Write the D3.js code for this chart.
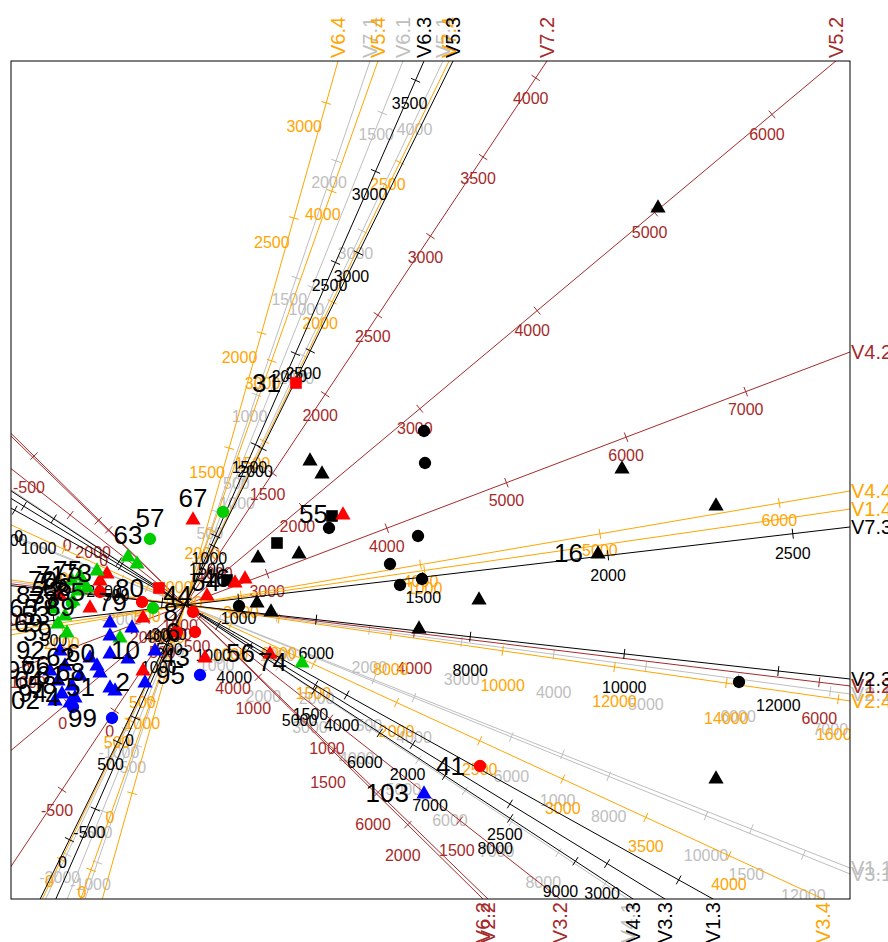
<!DOCTYPE html>
<html>
<head>
<meta charset="utf-8">
<script src="https://cdn.jsdelivr.net/npm/d3@7"></script>
<style>
  body { margin: 0; background: #ffffff; }
  text { font-family: "Liberation Sans", Arial, sans-serif; }
</style>
</head>
<body>
<svg id="chart" width="888" height="942"></svg>
<script>
// ---------------- biplot axes ----------------
// drawn in this order: .1 (gray), .2 (brown), .4 (orange), .3 (black)
const axisNames = ["V7.1","V6.1","V5.1","V4.1","V2.1","V1.1","V3.1",
                   "V7.2","V5.2","V4.2","V1.2","V6.2","V2.2","V3.2",
                   "V6.4","V5.4","V7.4","V4.4","V1.4","V2.4","V3.4",
                   "V6.3","V5.3","V7.3","V2.3","V4.3","V3.3","V1.3"];
const axisColourGroup = ["gray","gray","gray","gray","gray","gray","gray",
                         "brown","brown","brown","brown","brown","brown","brown",
                         "orange","orange","orange","orange","orange","orange","orange",
                         "black","black","black","black","black","black","black"];
// direction of each axis (degrees, anticlockwise from the first biplot dimension)
const axisAngles = [71.22, 68.16, 64.63, -33.57, -7.62, -21.58, -22.02,
                    56.36, 39.89, 20.83, -6.94, -44.61, -44.14, -38.09,
                    74.29, 70.47, 64.11, 9.73, 8.21, -8.21, -24.74,
                    66.28, 63.77, 6.69, -6.35, -33.27, -31.49, -29.11];
// variable value sitting at the biplot origin
const axisCentreValues = [101, 90, 0, 0, 0, 0, -705,
                          668, 1000, 2313, 2868, 510, 3241, 442,
                          818, 1561, 913, 2687, 0, 4319, 727,
                          620, 1200, 855, 4297, 3013, 829, 3026];
// biplot units moved per 1000 units of the variable
const axisUnitsPer1000 = [2.47, 3.76, 1.38, 0.56, 0.93, 4.06, 0.525,
                          1.90, 1.53, 1.28, 2.04, 2.10, 0.975, 3.30,
                          2.39, 1.80, 3.10, 1.82, 2.42, 0.565, 1.83,
                          1.99, 2.18, 3.72, 0.775, 0.78, 2.28, 1.90];
const axisTickValues = [
  [-1000,-500,0,500,1000,1500,2000],
  [-500,0,500,1000,1500],
  [-2000,-1000,0,1000,2000,3000,4000],
  [1000,2000,3000,4000,5000,6000,7000,8000,9000],
  [1000,2000,3000,4000,5000,6000,7000],
  [-500,0,500,1000,1500],
  [-2000,0,2000,4000,6000,8000,10000,12000],
  [-500,0,500,1000,1500,2000,2500,3000,3500,4000],
  [0,1000,2000,3000,4000,5000,6000],
  [1000,2000,3000,4000,5000,6000,7000],
  [2000,4000,6000],
  [-500,0,500,1000,1500,2000],
  [2000,4000,6000],
  [-500,0,500,1000,1500],
  [0,500,1000,1500,2000,2500,3000],
  [0,1000,2000,3000,4000],
  [0,500,1000,1500,2000,2500],
  [2000,3000,4000,5000,6000],
  [1000],
  [4000,6000,8000,10000,12000,14000,16000],
  [0,500,1000,1500,2000,2500,3000,3500,4000],
  [-500,0,500,1000,1500,2000,2500,3000,3500],
  [0,500,1000,1500,2000,2500,3000],
  [500,1000,1500,2000,2500],
  [4000,6000,8000,10000,12000],
  [1000,2000,3000,4000,5000,6000,7000,8000,9000],
  [0,500,1000,1500,2000,2500,3000],
  [2000,4000,6000]
];
// where each axis writes its tick labels, relative to the tick (px)
const tickLabelShift = [
  [-7,22],[-6,22],[-7,23],[-15,30],[0,38],[-5,46],[0,40],
  [-5,21],[-5,20],[0,18],[0,36],[-5,31],[-5,32],[-3,30],
  [-22,24],[-9,23],[-12,22],[0,17],[0,18],[0,35],[0,29],
  [-6,23],[-7,23],[0,20],[0,34],[-15,30],[-5,30],[-5,30]
];

// ---------------- samples: [dim1, dim2, shape, label, label side] ----------------
const groupBlack = [
  [4.73, 3.98, "tri", "", ""], [1.25, 1.45, "tri", "", ""], [1.37, 1.32, "tri", "", ""],
  [4.37, 1.37, "tri", "", ""], [5.31, 1.00, "tri", "", ""], [4.13, 0.52, "tri", "16", "l"],
  [2.94, 0.06, "tri", "", ""], [2.34, -0.23, "tri", "", ""], [0.73, 0.48, "tri", "", ""],
  [1.14, 0.52, "tri", "", ""], [0.72, 0.03, "tri", "", ""], [0.86, -0.06, "tri", "", ""],
  [5.31, -1.73, "tri", "", ""],
  [2.39, 1.74, "circle", "", ""], [2.40, 1.42, "circle", "", ""], [2.33, 0.69, "circle", "", ""],
  [2.05, 0.41, "circle", "", ""], [2.15, 0.20, "circle", "", ""], [2.37, 0.26, "circle", "", ""],
  [1.44, 0.77, "circle", "", ""], [0.54, -0.01, "circle", "", ""], [5.54, -0.77, "circle", "", ""],
  [1.47, 0.89, "square", "", ""], [0.92, 0.62, "square", "", ""], [0.42, 0.25, "square", "", ""]
];
const groupRed = [
  [1.11, 2.22, "square", "31", "l"], [0.08, 0.86, "tri", "67", "a"], [1.58, 0.91, "tri", "55", "l"],
  [0.50, 0.23, "tri", "54", "l"], [0.60, 0.27, "tri", "46", "l"], [0.22, 0.10, "tri", "44", "l"],
  [0.08, -0.07, "circle", "8", "l"], [-0.08, -0.27, "circle", "", ""], [0.10, -0.27, "circle", "6", "l"],
  [-0.26, 0.17, "square", "80", "l"], [-0.43, 0.03, "circle", "79", "l"], [-0.42, -0.12, "tri", "", ""],
  [0.20, -0.52, "tri", "43", "l"], [-0.42, -0.65, "tri", "", ""], [0.85, -0.48, "tri", "56", "l"],
  [2.95, -1.61, "circle", "41", "l"], [-0.78, 0.32, "tri", "73", "l"], [-0.85, 0.13, "circle", "85", "l"],
  [-0.95, -0.02, "tri", "89", "l"], [-0.85, 0.25, "tri", "", ""], [-1.25, 0.10, "tri", "83", "l"]
];
const groupGreen = [
  [-0.35, 0.66, "circle", "57", "a"], [0.38, 0.93, "circle", "", ""], [-0.32, -0.03, "circle", "", ""],
  [-0.57, 0.49, "tri", "63", "a"], [-0.48, 0.42, "tri", "", ""], [1.17, -0.57, "tri", "74", "l"],
  [-0.88, 0.35, "tri", "75", "l"], [-1.13, 0.25, "tri", "70", "l"], [-1.02, 0.23, "tri", "76", "l"],
  [-1.07, 0.15, "tri", "72", "l"], [-0.98, 0.18, "tri", "86", "l"], [-1.12, 0.05, "tri", "78", "l"],
  [-1.32, -0.03, "tri", "65", "l"], [-1.27, -0.18, "tri", "69", "l"], [-1.18, -0.27, "tri", "59", "l"],
  [-0.65, -0.32, "tri", "", ""], [-1.13, 0.02, "circle", "77", "l"], [-1.05, 0.30, "tri", "71", "l"],
  [-1.20, -0.10, "tri", "53", "l"]
];
const groupBlue = [
  [2.39, -1.88, "tri", "103", "l"], [0.15, -0.70, "circle", "95", "l"], [-0.73, -1.13, "circle", "99", "l"],
  [-0.75, -0.17, "tri", "", ""], [-0.53, -0.22, "tri", "", ""], [-0.75, -0.30, "tri", "", ""],
  [-0.30, -0.45, "tri", "10", "l"], [-0.57, -0.53, "tri", "", ""], [-0.75, -0.48, "tri", "60", "l"],
  [-0.95, -0.52, "tri", "62", "l"], [-1.20, -0.60, "tri", "66", "l"], [-0.88, -0.60, "tri", "", ""],
  [-0.85, -0.67, "tri", "68", "l"], [-1.05, -0.70, "tri", "61", "l"], [-1.27, -0.75, "tri", "64", "l"],
  [-1.13, -0.80, "tri", "58", "l"], [-0.75, -0.82, "tri", "51", "l"], [-0.70, -0.85, "tri", "", ""],
  [-0.40, -0.77, "tri", "2", "l"], [-1.30, -0.95, "tri", "102", "l"], [-1.15, -0.97, "tri", "", ""],
  [-1.23, -0.88, "tri", "94", "l"], [-1.10, -0.92, "tri", "4", "l"], [-1.12, -1.02, "circle", "", ""],
  [-1.25, -0.45, "tri", "92", "l"], [-1.35, -0.65, "tri", "97", "l"]
];

// ---------------- drawing ----------------
const colours = { gray: "#bebebe", brown: "#a52a2a", orange: "#ffa500", black: "#000000",
                  red: "#ff0000", green: "#00cd00", blue: "#0000ff" };

const svg = d3.select("#chart");
const frame = { left: 11, top: 61, right: 850, bottom: 899 };

const x = d3.scaleLinear().domain([-1.74, 6.65]).range([frame.left, frame.right]);
const y = d3.scaleLinear().domain([-2.94, 5.44]).range([frame.bottom, frame.top]);

svg.append("defs").append("clipPath").attr("id", "plotClip")
  .append("rect")
  .attr("x", frame.left).attr("y", frame.top)
  .attr("width", frame.right - frame.left).attr("height", frame.bottom - frame.top);

const plot = svg.append("g").attr("clip-path", "url(#plotClip)");
const ox = x(0), oy = y(0);

axisNames.forEach((name, i) => {
  const col = colours[axisColourGroup[i]];
  const a = axisAngles[i] * Math.PI / 180;
  const ca = Math.cos(a), sa = Math.sin(a);
  const pos = v => {
    const t = (v - axisCentreValues[i]) * axisUnitsPer1000[i] / 1000;
    return [x(t * ca), y(t * sa)];
  };
  const g = plot.append("g");
  // axis line through the origin, both ways
  g.append("line")
    .attr("x1", x(-20 * ca)).attr("y1", y(-20 * sa))
    .attr("x2", x(20 * ca)).attr("y2", y(20 * sa))
    .attr("stroke", col).attr("stroke-width", 1);
  // pixel direction and normal
  const pdx = ca, pdy = -sa;
  const nx = -pdy, ny = pdx;
  axisTickValues[i].forEach(v => {
    const [px, py] = pos(v);
    g.append("line")
      .attr("x1", px - 5 * nx).attr("y1", py - 5 * ny)
      .attr("x2", px + 5 * nx).attr("y2", py + 5 * ny)
      .attr("stroke", col).attr("stroke-width", 1);
    g.append("text")
      .attr("x", px + tickLabelShift[i][0]).attr("y", py + tickLabelShift[i][1])
      .attr("text-anchor", "middle").attr("dominant-baseline", "central")
      .attr("font-size", 16).attr("fill", col)
      .text(v);
  });

  // axis name where the positive end leaves the frame
  let best = Infinity, side = null;
  if (pdx > 0) { const t = (frame.right - ox) / pdx; if (t < best) { best = t; side = "right"; } }
  if (pdx < 0) { const t = (frame.left - ox) / pdx; if (t < best) { best = t; side = "left"; } }
  if (pdy < 0) { const t = (frame.top - oy) / pdy; if (t < best) { best = t; side = "top"; } }
  if (pdy > 0) { const t = (frame.bottom - oy) / pdy; if (t < best) { best = t; side = "bottom"; } }
  const ex = ox + best * pdx, ey = oy + best * pdy;
  const lab = svg.append("text").attr("fill", col).attr("font-size", 20)
    .attr("dominant-baseline", "central").text(name);
  if (side === "right") {
    lab.attr("x", ex + 1).attr("y", ey).attr("text-anchor", "start");
  } else if (side === "top") {
    lab.attr("text-anchor", "start")
       .attr("transform", `translate(${ex},${ey - 3}) rotate(-90)`);
  } else if (side === "bottom") {
    lab.attr("text-anchor", "end")
       .attr("transform", `translate(${ex},${ey + 3}) rotate(-90)`);
  } else {
    lab.attr("x", ex - 2).attr("y", ey).attr("text-anchor", "end");
  }
});

// sample markers
const shapeOf = { tri: d3.symbolTriangle, circle: d3.symbolCircle, square: d3.symbolSquare };
const sizeOf = { tri: 100, circle: 120, square: 135 };
const groups = [[groupBlack, colours.black], [groupRed, colours.red],
                [groupGreen, colours.green], [groupBlue, colours.blue]];

groups.forEach(([pts, col]) => {
  plot.append("g").selectAll("path").data(pts).join("path")
    .attr("transform", d => `translate(${x(d[0])},${y(d[1]) + (d[2] === "tri" ? 1 : 0)})`)
    .attr("d", d => d3.symbol(shapeOf[d[2]], sizeOf[d[2]])())
    .attr("fill", col);
});

// sample labels
groups.forEach(([pts]) => {
  plot.append("g").selectAll("text").data(pts.filter(d => d[3] !== "")).join("text")
    .attr("x", d => d[4] === "l" ? x(d[0]) - 15 : x(d[0]))
    .attr("y", d => d[4] === "a" ? y(d[1]) - 12 : y(d[1]) + 9)
    .attr("text-anchor", d => d[4] === "l" ? "end" : "middle")
    .attr("font-size", 26).attr("fill", "#000")
    .text(d => d[3]);
});

// plot frame
svg.append("rect")
  .attr("x", frame.left).attr("y", frame.top)
  .attr("width", frame.right - frame.left).attr("height", frame.bottom - frame.top)
  .attr("fill", "none").attr("stroke", "#000").attr("stroke-width", 1);
</script>
</body>
</html>
